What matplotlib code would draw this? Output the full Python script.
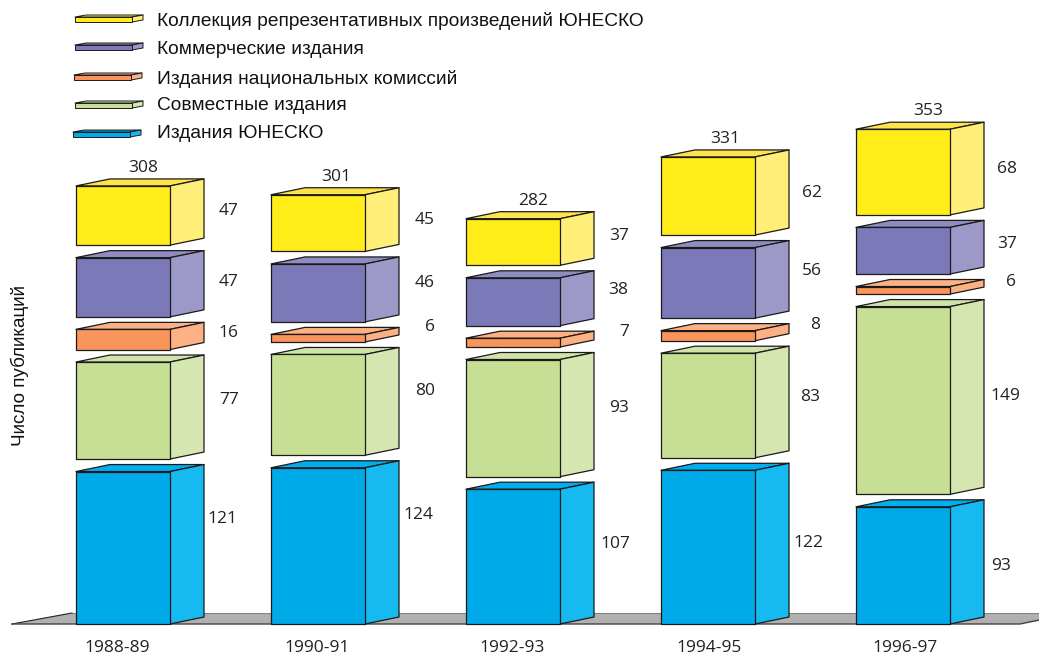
import matplotlib
matplotlib.use("Agg")
import matplotlib.pyplot as plt
from matplotlib.patches import Polygon

periods = ["1988-89", "1990-91", "1992-93", "1994-95", "1996-97"]
series_names = ["Издания ЮНЕСКО", "Совместные издания", "Издания национальных комиссий",
                "Коммерческие издания", "Коллекция репрезентативных произведений ЮНЕСКО"]
unesco = [121, 124, 107, 122, 93]
joint = [77, 80, 93, 83, 149]
national = [16, 6, 7, 8, 6]
commercial = [47, 46, 38, 56, 37]
collection = [47, 45, 37, 62, 68]
totals = [308, 301, 282, 331, 353]
all_series = [unesco, joint, national, commercial, collection]

# front, side, top
colours = [("#00a9e8", "#16baf0", "#00aeef"),
           ("#c6df94", "#d6e6b1", "#d0e3a8"),
           ("#f9955a", "#fbb183", "#fbb183"),
           ("#7c79b8", "#9c99c9", "#8f8cc0"),
           ("#ffec19", "#ffee77", "#ffe34d")]

# label nudges in pixels from the right edge / middle of each box
label_dx = [[52, 59, 58, 59, 59],
            [53, 60, 65, 60, 60],
            [55, 59, 64, 58, 59],
            [53, 55, 60, 57, 57],
            [51, 55, 61, 57, 57]]
label_dy = [[29, 11, 6, 5, 5],
            [31, 14, 11, 10, 3],
            [13, 10, 11, 12, 6],
            [4, 8, 11, 12, 3],
            [-1, 4, 8, 7, 3]]
total_dx = [3, 1, 3, 0, 8]
period_dx = [-6, -1, -1, 1, 2]

W, H = 1039, 654
px_x = 195.0   # pixels per category
px_y = 1.26    # pixels per publication
base_px = 624
first_px = 123
bar_w = 94 / px_x
depth_x = 34 / px_x
depth_y = 7 / px_y
gap = 12.5 / px_y
edge = "#1a1a1a"

num_font = "Open Sans"
txt_font = "Liberation Sans"

fig = plt.figure(figsize=(W / 100, H / 100), dpi=100)

# pixel axes for the floor and the legend keys
bg = fig.add_axes([0, 0, 1, 1])
bg.set_xlim(0, W)
bg.set_ylim(H, 0)
bg.axis("off")

ax = fig.add_axes([0, 0, 1, 1])
ax.set_xlim(-first_px / px_x, (W - first_px) / px_x)
ax.set_ylim(-(H - base_px) / px_y, base_px / px_y)
ax.axis("off")
ax.patch.set_alpha(0)

bg.add_patch(Polygon([(12, 624), (72, 613), (1090, 613), (1020, 624)],
                     facecolor="#b0b0b0", edgecolor="none"))
bg.plot([72, 1039], [613, 613], color="#808080", lw=0.7)
bg.plot([12, 72], [624, 613], color="#222222", lw=0.8)
bg.plot([12, 1020, 1039], [624, 624, 620], color="#444444", lw=1.0)


def box(a, x0, x1, y0, y1, dx, dy, cols, lw=0.9):
    a.add_patch(Polygon([(x0, y1), (x1, y1), (x1 + dx, y1 + dy), (x0 + dx, y1 + dy)],
                        facecolor=cols[2], edgecolor=edge, lw=lw, joinstyle="round"))
    a.add_patch(Polygon([(x1, y0), (x1 + dx, y0 + dy), (x1 + dx, y1 + dy), (x1, y1)],
                        facecolor=cols[1], edgecolor=edge, lw=lw, joinstyle="round"))
    a.add_patch(Polygon([(x0, y0), (x1, y0), (x1, y1), (x0, y1)],
                        facecolor=cols[0], edgecolor=edge, lw=lw, joinstyle="round"))


for i, period in enumerate(periods):
    x0 = i - bar_w / 2
    x1 = i + bar_w / 2
    bottom = 0
    for s, values in enumerate(all_series):
        top = bottom + values[i]
        box(ax, x0, x1, bottom, top, depth_x, depth_y, colours[s])
        ax.annotate(str(values[i]), (x1, (bottom + top) / 2),
                    xytext=(label_dx[i][s], label_dy[i][s]), textcoords="offset pixels",
                    ha="center", va="center", fontsize=12.5, family=num_font, color="#222222")
        bottom = top + gap
    ax.annotate(str(totals[i]), (i + depth_x / 2, bottom - gap + depth_y),
                xytext=(total_dx[i], 11), textcoords="offset pixels",
                ha="center", va="center", fontsize=12.5, family=num_font, color="#222222")
    ax.annotate(period, (i, 0), xytext=(period_dx[i], -24), textcoords="offset pixels",
                ha="center", va="center", fontsize=12.5, family=num_font, color="#222222")

# legend, top entry first
key_x = [75, 75, 74, 75, 73]
key_y = [22, 50, 80, 108, 137]
text_y = [21, 50, 79, 106, 134]
for pos, s in enumerate(reversed(range(len(series_names)))):
    box(bg, key_x[pos], key_x[pos] + 57, key_y[pos], key_y[pos] - 5, 11, -2, colours[s], lw=0.7)
    bg.text(157, text_y[pos], series_names[s], ha="left", va="center",
            fontsize=13.8, family=txt_font, color="#111111")

bg.text(20, 365, "Число публикаций", rotation=90, ha="center", va="center",
        fontsize=13.6, family=txt_font, color="#111111")

fig.savefig("out.png", dpi=100)
